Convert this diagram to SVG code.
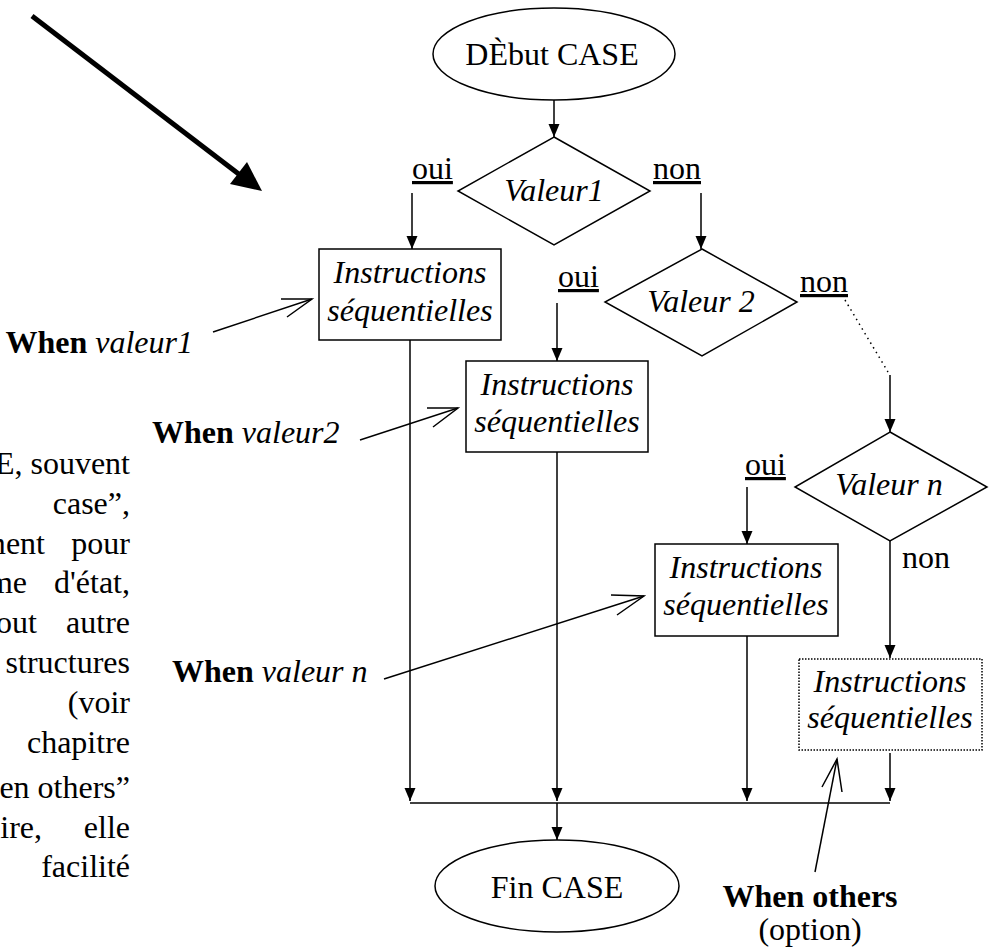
<svg xmlns="http://www.w3.org/2000/svg" width="993" height="952" viewBox="0 0 993 952">
<defs>
<style>
.t{font-family:"Liberation Serif","Times New Roman",serif;font-size:32px;fill:#000}
.i{font-style:italic}
.b{font-weight:bold}
.u{text-decoration:underline}
.m{text-anchor:middle}
.e{text-anchor:end}
.sh{fill:#fff;stroke:#000;stroke-width:1.5}
.ln{fill:none;stroke:#000;stroke-width:1.5}
.ar{fill:none;stroke:#000;stroke-width:1.5;marker-end:url(#ah)}
.op{fill:none;stroke:#000;stroke-width:1.5}
</style>
<marker id="ah" viewBox="0 0 13 12" refX="13" refY="6" markerWidth="13" markerHeight="12" markerUnits="userSpaceOnUse" orient="auto">
<path d="M0,0.5 L13,6 L0,11.5 z" fill="#000"/>
</marker>
</defs>
<rect width="993" height="952" fill="#fff"/>

<g id="big-arrow">
<line x1="32" y1="16" x2="240" y2="175" stroke="#000" stroke-width="5"/>
<polygon points="262,191 230,184 247,162" fill="#000"/>
</g>

<g id="left-text" class="t">
<text class="e" x="130" y="474">E, souvent</text>
<text class="e" x="130" y="514">case”,</text>
<text class="e" x="45" y="554">ment</text>
<text class="e" x="130" y="554">pour</text>
<text class="e" x="27" y="593">me</text>
<text class="e" x="130" y="593">d'état,</text>
<text class="e" x="37" y="633">out</text>
<text class="e" x="130" y="633">autre</text>
<text class="e" x="130" y="673">structures</text>
<text class="e" x="130" y="713">(voir</text>
<text class="e" x="130" y="753">chapitre</text>
<text class="e" x="130" y="798">en others”</text>
<text class="e" x="42" y="838">oire,</text>
<text class="e" x="130" y="838">elle</text>
<text class="e" x="130" y="877">facilité</text>
</g>

<g id="connectors">
<line class="ar" x1="554" y1="100" x2="554" y2="137"/>
<line class="ar" x1="412" y1="193" x2="412" y2="249"/>
<line class="ar" x1="701" y1="193" x2="701" y2="249"/>
<line class="ar" x1="557" y1="303" x2="557" y2="361"/>
<line class="ln" x1="845" y1="300" x2="888" y2="372" stroke-dasharray="1.5 4"/>
<line class="ar" x1="890" y1="375" x2="890" y2="432"/>
<line class="ar" x1="747" y1="487" x2="747" y2="544"/>
<line class="ar" x1="890" y1="541" x2="890" y2="658"/>
<line class="ar" x1="410" y1="340" x2="410" y2="801"/>
<line class="ar" x1="557" y1="452" x2="557" y2="801"/>
<line class="ar" x1="747" y1="636" x2="747" y2="801"/>
<line class="ar" x1="890" y1="753" x2="890" y2="801"/>
<line class="ln" x1="410" y1="803" x2="890" y2="803"/>
<line class="ar" x1="557" y1="803" x2="557" y2="840"/>
</g>

<g id="debut">
<ellipse class="sh" cx="554" cy="54" rx="121" ry="46"/>
<text class="t m" x="552" y="65">DÈbut CASE</text>
</g>

<g id="valeur1">
<polygon class="sh" points="554,137 650,191 554,245 458,191"/>
<text class="t i m" x="554" y="201">Valeur1</text>
<text class="t u" x="412" y="179">oui</text>
<text class="t u" x="653" y="179">non</text>
</g>

<g id="valeur2">
<polygon class="sh" points="702,249 797,302 702,356 605,302"/>
<text class="t i m" x="701" y="312">Valeur 2</text>
<text class="t u" x="558" y="287">oui</text>
<text class="t u" x="800" y="292">non</text>
</g>

<g id="valeurn">
<polygon class="sh" points="890,432 987,487 890,541 795,487"/>
<text class="t i m" x="889" y="495">Valeur n</text>
<text class="t u" x="745" y="475">oui</text>
<text class="t" x="902" y="568">non</text>
</g>

<g id="instr1">
<rect class="sh" x="319" y="249" width="182" height="91"/>
<text class="t i m" x="410" y="283">Instructions</text>
<text class="t i m" x="410" y="321">séquentielles</text>
</g>

<g id="instr2">
<rect class="sh" x="466" y="361" width="182" height="91"/>
<text class="t i m" x="557" y="395">Instructions</text>
<text class="t i m" x="557" y="432">séquentielles</text>
</g>

<g id="instr3">
<rect class="sh" x="655" y="544" width="183" height="92"/>
<text class="t i m" x="746" y="578">Instructions</text>
<text class="t i m" x="746" y="615">séquentielles</text>
</g>

<g id="instr-others">
<rect class="sh" x="799" y="659" width="183" height="91" stroke-dasharray="1.5 1.5"/>
<text class="t i m" x="890" y="692">Instructions</text>
<text class="t i m" x="890" y="728">séquentielles</text>
</g>

<g id="fin">
<ellipse class="sh" cx="557" cy="886" rx="122" ry="46"/>
<text class="t m" x="557" y="898">Fin CASE</text>
</g>

<g id="note-valeur1">
<text class="t e" x="193" y="353"><tspan class="b">When</tspan> <tspan class="i">valeur1</tspan></text>
<line class="op" x1="213" y1="332" x2="312" y2="299"/>
<polyline class="op" points="281,299 312,299 287,317"/>
</g>

<g id="note-valeur2">
<text class="t" x="152" y="443"><tspan class="b">When</tspan> <tspan class="i">valeur2</tspan></text>
<line class="op" x1="360" y1="440" x2="458" y2="408"/>
<polyline class="op" points="427,408 458,408 433,427"/>
</g>

<g id="note-valeurn">
<text class="t" x="172" y="682"><tspan class="b">When</tspan> <tspan class="i">valeur n</tspan></text>
<line class="op" x1="384" y1="679" x2="644" y2="596"/>
<polyline class="op" points="611,595 644,596 617,615"/>
</g>

<g id="note-others">
<text class="t b m" x="810" y="907">When others</text>
<text class="t m" x="810" y="940">(option)</text>
<line class="op" x1="815" y1="872" x2="837" y2="759"/>
<polyline class="op" points="822,787 837,759 842,792"/>
</g>
</svg>
